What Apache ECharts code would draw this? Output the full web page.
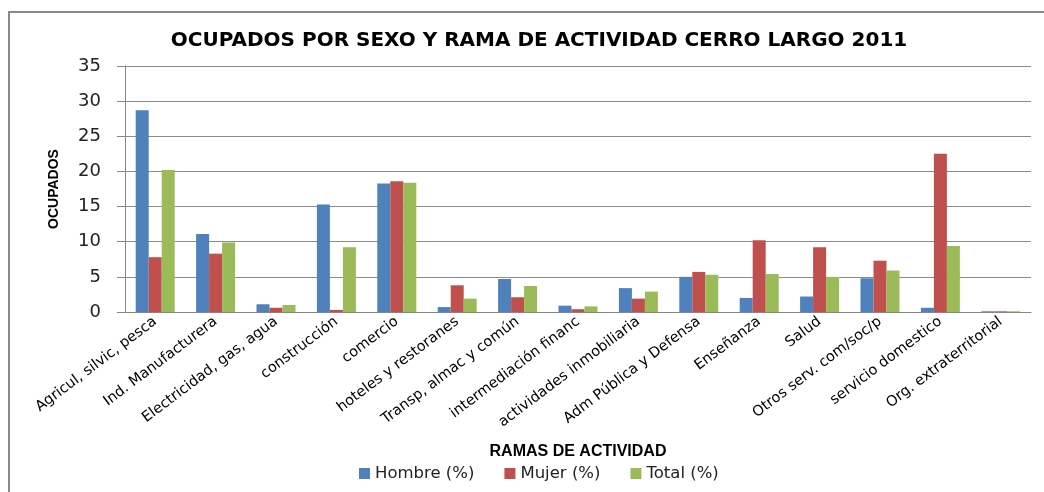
<!DOCTYPE html>
<html>
<head>
<meta charset="utf-8">
<script src="https://cdn.jsdelivr.net/npm/echarts@6/dist/echarts.min.js"></script>
<style>
  html, body { margin: 0; padding: 0; background: #fff; }
  #chart { width: 1044px; height: 492px; }
</style>
</head>
<body>
<div id="chart"></div>
<script>
const categories = [
  'Agricul, silvic, pesca', 'Ind. Manufacturera', 'Electricidad, gas, agua',
  'construcción', 'comercio', 'hoteles y restoranes', 'Transp, almac y común',
  'intermediación financ', 'actividades inmobiliaria', 'Adm Pública y Defensa',
  'Enseñanza', 'Salud', 'Otros serv. com/soc/p', 'servicio domestico',
  'Org. extraterritorial'
]
const hombre = [28.7, 11.1, 1.1, 15.3, 18.3, 0.7, 4.7, 0.9, 3.4, 5.0, 2.0, 2.2, 4.8, 0.6, 0.1]
const mujer = [7.8, 8.3, 0.6, 0.3, 18.6, 3.8, 2.1, 0.4, 1.9, 5.7, 10.2, 9.2, 7.3, 22.5, 0.1]
const total = [20.2, 9.9, 1.0, 9.2, 18.4, 1.9, 3.7, 0.8, 2.9, 5.3, 5.4, 5.0, 5.9, 9.4, 0.1]
const yTicks = [0, 5, 10, 15, 20, 25, 30, 35]

const colors = ['#4F81BD', '#C0504D', '#9BBB59']
const chart = echarts.init(document.getElementById('chart'))

function barSeries(name, data, color) {
  return {
    name: name,
    type: 'bar',
    data: data,
    barWidth: 13,
    barGap: '0%',
    itemStyle: { color: color },
    animation: false
  }
}

chart.setOption({
  graphic: [{
    type: 'rect',
    shape: { x: 9, y: 12, width: 1100, height: 600 },
    style: { fill: 'none', stroke: '#888', lineWidth: 2 },
    silent: true
  }],
  title: {
    text: 'OCUPADOS POR SEXO Y RAMA DE ACTIVIDAD CERRO LARGO 2011',
    left: 534,
    top: 26,
    textAlign: 'center',
    textStyle: { fontFamily: 'DejaVu Sans', fontWeight: 'bold', fontSize: 20, color: '#000' }
  },
  legend: {
    data: ['Hombre (%)', 'Mujer (%)', 'Total (%)'],
    left: 354,
    top: 460,
    itemWidth: 11,
    itemHeight: 11,
    itemGap: 30,
    icon: 'rect',
    textStyle: { fontFamily: 'DejaVu Sans', fontSize: 16.5, color: '#222' }
  },
  grid: { left: 125, right: 13, top: 66, bottom: 180 },
  xAxis: {
    type: 'category',
    data: categories,
    name: 'RAMAS DE ACTIVIDAD',
    nameLocation: 'middle',
    nameGap: 132,
    nameTextStyle: { fontFamily: 'Liberation Sans', fontWeight: 'bold', fontSize: 16, color: '#000' },
    axisLine: { lineStyle: { color: '#868686' } },
    axisTick: { length: 6, lineStyle: { color: '#868686' } },
    axisLabel: {
      interval: 0,
      rotate: 37,
      margin: 8,
      fontFamily: 'DejaVu Sans',
      fontSize: 14.5,
      color: '#000'
    }
  },
  yAxis: {
    type: 'value',
    min: 0,
    max: 35,
    interval: 5,
    name: 'OCUPADOS',
    nameLocation: 'middle',
    nameRotate: 90,
    nameGap: 64,
    nameTextStyle: { fontFamily: 'Liberation Sans', fontWeight: 'bold', fontSize: 14, color: '#000' },
    axisLine: { show: true, lineStyle: { color: '#868686' } },
    axisTick: { show: true, length: 8, lineStyle: { color: '#868686' } },
    axisLabel: {
      margin: 24,
      fontFamily: 'DejaVu Sans',
      fontSize: 18,
      color: '#222',
      formatter: function (v) { return yTicks.indexOf(v) >= 0 ? String(v) : '' }
    },
    splitLine: { lineStyle: { color: '#8c8c8c' } }
  },
  series: [
    barSeries('Hombre (%)', hombre, colors[0]),
    barSeries('Mujer (%)', mujer, colors[1]),
    barSeries('Total (%)', total, colors[2])
  ]
})
</script>
</body>
</html>
